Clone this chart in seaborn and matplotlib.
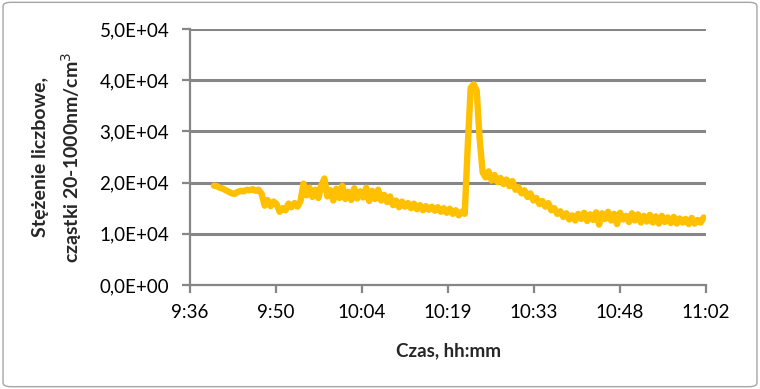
import matplotlib
matplotlib.use("Agg")
import matplotlib.pyplot as plt
import matplotlib.patches as mpatches
import numpy as np
import pandas as pd
import seaborn as sns

# readings every 30 s from 9:40:00, values in particles/cm3 (x1000)
START_TIME = "2000-01-01 09:40:00"
STEP = "30s"
CONC_K = [
    19.4, 19.3, 19.0, 18.8, 18.5, 18.2, 17.9, 17.8, 18.2, 18.4,
    18.3, 18.6, 18.5, 18.7, 18.4, 18.6, 17.8, 15.5, 16.6, 15.4,
    16.3, 15.8, 14.3, 15.0, 14.6, 15.9, 15.2, 16.0, 15.3, 16.4,
    19.8, 17.5, 19.0, 17.2, 18.6, 17.0, 19.5, 20.8, 17.3, 18.5,
    16.5, 18.8, 17.0, 19.4, 16.8, 18.2, 16.6, 18.9, 16.9, 18.3,
    17.1, 19.0, 16.4, 18.4, 16.8, 18.6, 16.5, 17.6, 16.2, 17.3,
    15.6, 16.5, 15.2, 16.3, 15.3, 16.0, 15.0, 15.9, 14.8, 15.6,
    14.6, 15.4, 14.7, 15.3, 14.5, 15.2, 14.3, 15.0, 14.1, 14.9,
    13.9, 14.6, 13.6, 14.3, 13.9, 27.0, 38.5, 39.2, 38.0, 28.5,
    22.0, 21.0, 22.2, 20.4, 21.5, 20.1, 20.9, 19.7, 20.6, 19.3,
    20.3, 18.6, 19.1, 17.9, 18.5, 17.2, 17.9, 16.5, 17.0, 15.8,
    16.4, 15.3, 16.0, 14.6, 15.0, 13.9, 14.4, 13.3, 14.0, 12.8,
    13.6, 12.6, 13.9, 12.9, 14.1, 12.5, 13.8, 12.7, 14.2, 11.8,
    14.0, 12.9, 14.3, 12.6, 13.9, 11.9, 14.1, 12.8, 13.5, 12.3,
    14.0, 12.6, 13.8, 12.2, 13.5, 12.4, 13.7, 12.2, 13.4, 12.0,
    13.5, 12.3, 13.2, 12.1, 13.3, 12.0, 13.0, 12.2, 12.9, 11.9,
    13.1, 12.0, 12.7, 12.2, 13.2,
]

X_START = "2000-01-01 09:36:00"
X_END = "2000-01-01 11:02:24"
X_TICK_LABELS = ["9:36", "9:50", "10:04", "10:19", "10:33", "10:48", "11:02"]
Y_TICKS = [0, 10000, 20000, 30000, 40000, 50000]
Y_TICK_LABELS = ["0,0E+00", "1,0E+04", "2,0E+04", "3,0E+04", "4,0E+04", "5,0E+04"]

LINE_COLOR = "#FFC000"
GRID_COLOR = "#868686"

sns.set_theme(style="white")
plt.rcParams["font.family"] = ["Lato", "DejaVu Sans"]

df = pd.DataFrame({
    "time": pd.date_range(START_TIME, periods=len(CONC_K), freq=STEP),
    "conc": np.array(CONC_K) * 1000,
})

fig = plt.figure(figsize=(7.6, 3.89), dpi=100)
ax = fig.add_axes([190 / 760, 1 - 285 / 389, 516 / 760, 256 / 389])

sns.lineplot(data=df, x="time", y="conc", ax=ax, color=LINE_COLOR,
             linewidth=4.6, solid_joinstyle="round", solid_capstyle="round")

x_ticks = pd.date_range(X_START, X_END, periods=len(X_TICK_LABELS))
ax.set_xlim(pd.Timestamp(X_START), pd.Timestamp(X_END))
ax.set_xticks(x_ticks)
ax.set_xticklabels(X_TICK_LABELS)
ax.set_ylim(0, 50000)
ax.set_yticks(Y_TICKS)
ax.set_yticklabels(Y_TICK_LABELS)

for y in Y_TICKS[1:]:
    ax.axhline(y, color=GRID_COLOR, linewidth=2.2, zorder=0)

for side in ["top", "right"]:
    ax.spines[side].set_visible(False)
for side in ["left", "bottom"]:
    ax.spines[side].set_color(GRID_COLOR)
    ax.spines[side].set_linewidth(1.6)

ax.tick_params(axis="both", which="major", direction="out", length=6, width=1.6,
               color=GRID_COLOR, labelsize=13.5, labelcolor="black")
ax.tick_params(axis="x", bottom=True, pad=8)
ax.tick_params(axis="y", left=True, pad=9)

ax.set_xlabel("Czas, hh:mm", fontsize=13.5, fontweight="bold", labelpad=15)
ax.set_ylabel("Stężenie liczbowe,\ncząstki 20-1000nm/cm$^3$", fontsize=14,
              fontweight="bold", labelpad=11, linespacing=1.5)

border = mpatches.FancyBboxPatch((0.004, 0.006), 0.992, 0.988,
                                 boxstyle="round,pad=0,rounding_size=0.01",
                                 transform=fig.transFigure, fill=False,
                                 edgecolor="#A6A6A6", linewidth=1.0)
fig.patches.append(border)

fig.savefig("out.png", dpi=100)
